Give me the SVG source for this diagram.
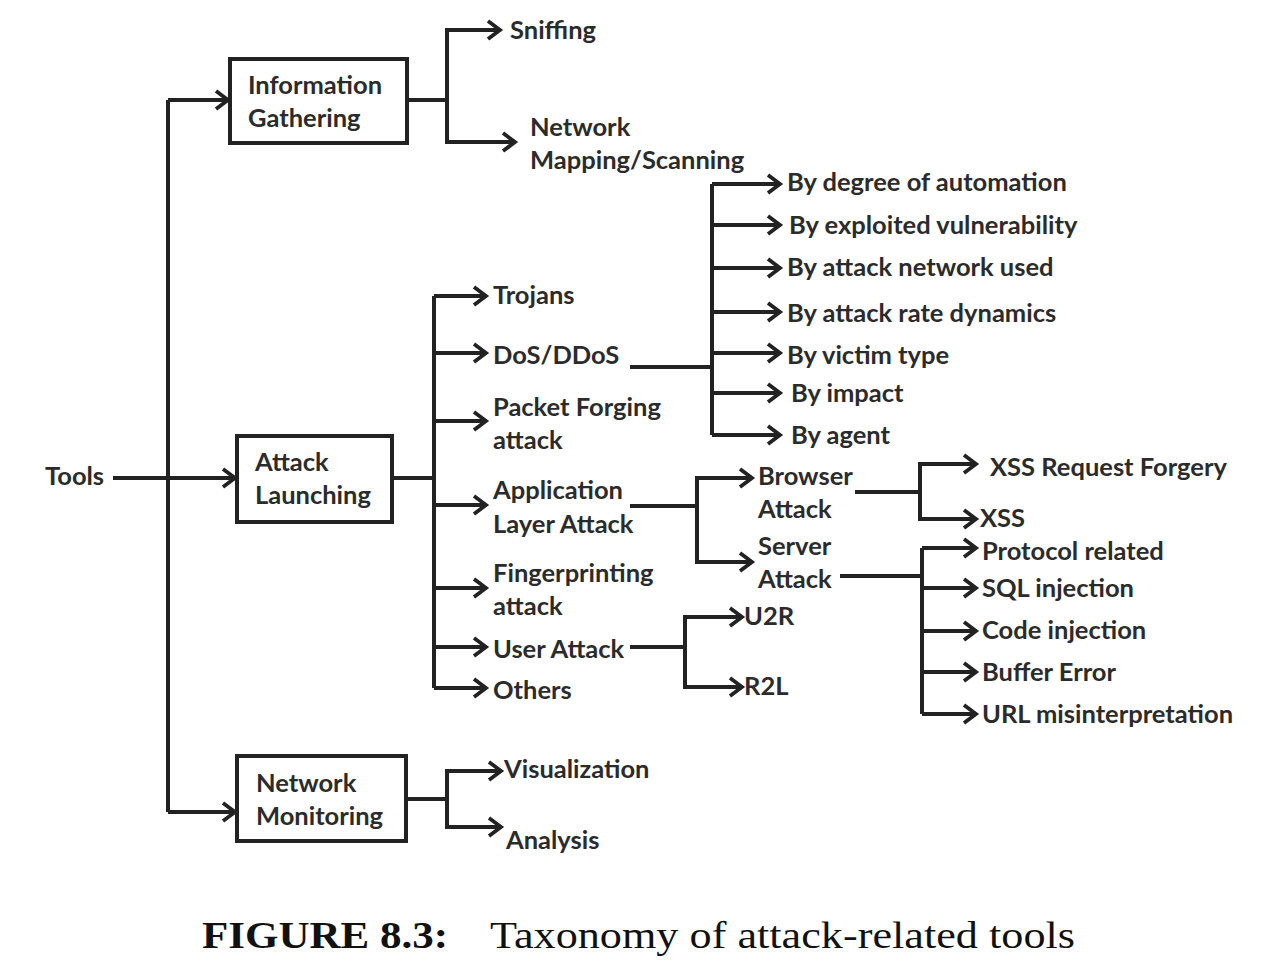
<svg xmlns="http://www.w3.org/2000/svg" width="1266" height="968" viewBox="0 0 1266 968">
<style>
.t{font-family:Lato,"Open Sans","Liberation Sans",sans-serif;font-size:25.5px;font-weight:bold;fill:#2b2b2b}
.box{fill:#fff;stroke:#222;stroke-width:4}
.c{fill:none;stroke:#222;stroke-width:4;stroke-linejoin:miter}
.a{marker-end:url(#ah)}
.cap{font-family:"Liberation Serif","DejaVu Serif",serif;font-size:38px;fill:#111}
</style>
<defs>
<marker id="ah" markerUnits="userSpaceOnUse" viewBox="0 0 18 22" refX="14" refY="11" markerWidth="18" markerHeight="22" orient="auto">
<path d="M2,2 L14,11 L2,20" fill="none" stroke="#222" stroke-width="3.8"/>
</marker>
</defs>
<rect width="1266" height="968" fill="#fff"/>
<g id="connectors">
<path class="c" d="M113,478 H168"/>
<path class="c" d="M168,812 V100"/>
<path class="c a" d="M168,100 H228"/>
<path class="c a" d="M168,478 H235"/>
<path class="c a" d="M168,812 H235"/>
<path class="c" d="M407,100 H447"/>
<path class="c a" d="M447,100 V30 H500"/>
<path class="c a" d="M447,100 V142 H515"/>
<path class="c" d="M392,478 H434"/>
<path class="c" d="M434,296 V688"/>
<path class="c a" d="M434,296 H486"/>
<path class="c a" d="M434,353 H486"/>
<path class="c a" d="M434,421 H486"/>
<path class="c a" d="M434,505 H486"/>
<path class="c a" d="M434,588 H486"/>
<path class="c a" d="M434,647 H486"/>
<path class="c a" d="M434,688 H486"/>
<path class="c" d="M630,367 H712"/>
<path class="c" d="M712,184 V435"/>
<path class="c a" d="M712,184 H780"/>
<path class="c a" d="M712,225 H780"/>
<path class="c a" d="M712,268 H780"/>
<path class="c a" d="M712,312 H780"/>
<path class="c a" d="M712,353 H780"/>
<path class="c a" d="M712,393 H780"/>
<path class="c a" d="M712,435 H780"/>
<path class="c" d="M630,506 H697"/>
<path class="c a" d="M697,506 V478 H752"/>
<path class="c a" d="M697,506 V562 H752"/>
<path class="c" d="M855,492 H920"/>
<path class="c a" d="M920,492 V464 H976"/>
<path class="c a" d="M920,492 V519 H976"/>
<path class="c" d="M840,576 H922"/>
<path class="c" d="M922,548 V714"/>
<path class="c a" d="M922,548 H976"/>
<path class="c a" d="M922,588 H976"/>
<path class="c a" d="M922,631 H976"/>
<path class="c a" d="M922,672 H976"/>
<path class="c a" d="M922,714 H976"/>
<path class="c" d="M630,647 H685"/>
<path class="c a" d="M685,647 V617 H742"/>
<path class="c a" d="M685,647 V687 H742"/>
<path class="c" d="M406,799 H447"/>
<path class="c a" d="M447,799 V771 H501"/>
<path class="c a" d="M447,799 V827 H501"/>
</g>
<g id="tools"><text class="t" x="45" y="485">Tools</text></g>
<g id="info-gathering"><rect class="box" x="230" y="59" width="177" height="84"/><text class="t" x="248" y="94">Information</text><text class="t" x="248" y="127">Gathering</text></g>
<g id="attack-launching"><rect class="box" x="237" y="436" width="155" height="86"/><text class="t" x="255" y="471">Attack</text><text class="t" x="255" y="504">Launching</text></g>
<g id="network-monitoring"><rect class="box" x="237" y="756" width="169" height="85"/><text class="t" x="256" y="792">Network</text><text class="t" x="256" y="825">Monitoring</text></g>
<g id="sniffing"><text class="t" x="510" y="39">Sniffing</text></g>
<g id="network-mapping"><text class="t" x="530" y="136">Network</text><text class="t" x="530" y="169">Mapping/Scanning</text></g>
<g id="trojans"><text class="t" x="493" y="304">Trojans</text></g>
<g id="dos"><text class="t" x="493" y="364">DoS/DDoS</text></g>
<g id="packet-forging"><text class="t" x="493" y="416">Packet Forging</text><text class="t" x="493" y="449">attack</text></g>
<g id="app-layer"><text class="t" x="493" y="499">Application</text><text class="t" x="493" y="533">Layer Attack</text></g>
<g id="fingerprinting"><text class="t" x="493" y="582">Fingerprinting</text><text class="t" x="493" y="615">attack</text></g>
<g id="user-attack"><text class="t" x="493" y="658">User Attack</text></g>
<g id="others"><text class="t" x="493" y="699">Others</text></g>
<g id="by-degree"><text class="t" x="787" y="191">By degree of automation</text></g>
<g id="by-exploited"><text class="t" x="789" y="234">By exploited vulnerability</text></g>
<g id="by-network"><text class="t" x="787" y="276">By attack network used</text></g>
<g id="by-rate"><text class="t" x="787" y="322">By attack rate dynamics</text></g>
<g id="by-victim"><text class="t" x="787" y="364">By victim type</text></g>
<g id="by-impact"><text class="t" x="791" y="402">By impact</text></g>
<g id="by-agent"><text class="t" x="791" y="444">By agent</text></g>
<g id="browser-attack"><text class="t" x="758" y="485">Browser</text><text class="t" x="758" y="518">Attack</text></g>
<g id="server-attack"><text class="t" x="758" y="555">Server</text><text class="t" x="758" y="588">Attack</text></g>
<g id="xss-rf"><text class="t" x="990" y="476">XSS Request Forgery</text></g>
<g id="xss"><text class="t" x="980" y="527">XSS</text></g>
<g id="protocol"><text class="t" x="982" y="560">Protocol related</text></g>
<g id="sql"><text class="t" x="982" y="597">SQL injection</text></g>
<g id="code"><text class="t" x="982" y="639">Code injection</text></g>
<g id="buffer"><text class="t" x="982" y="681">Buffer Error</text></g>
<g id="url"><text class="t" x="982" y="723">URL misinterpretation</text></g>
<g id="u2r"><text class="t" x="744" y="625">U2R</text></g>
<g id="r2l"><text class="t" x="744" y="695">R2L</text></g>
<g id="visualization"><text class="t" x="504" y="778">Visualization</text></g>
<g id="analysis"><text class="t" x="506" y="849">Analysis</text></g>
<g id="caption"><text class="cap" x="202" y="948" font-weight="bold" textLength="246" lengthAdjust="spacingAndGlyphs">FIGURE 8.3:</text><text class="cap" x="490" y="948" textLength="585" lengthAdjust="spacingAndGlyphs">Taxonomy of attack-related tools</text></g>
</svg>
